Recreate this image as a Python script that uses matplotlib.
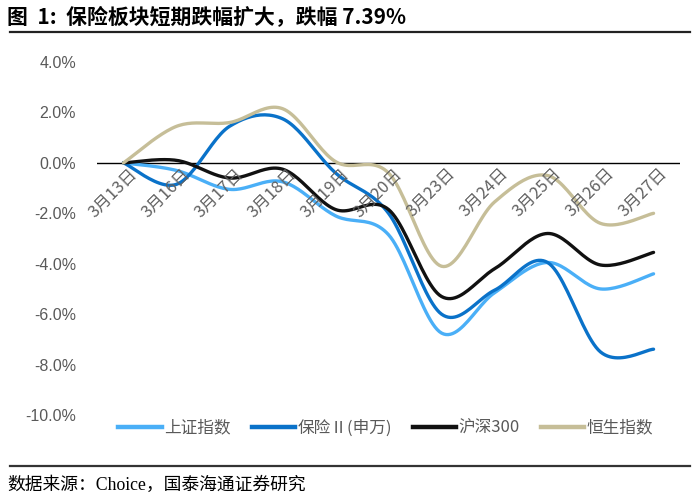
import numpy as np
import matplotlib
matplotlib.use('Agg')
from matplotlib import pyplot as plt
from matplotlib.lines import Line2D

plt.rcParams['font.family'] = ['Liberation Sans', 'Noto Sans CJK SC', 'DejaVu Sans']

dates = ['3月13日', '3月16日', '3月17日', '3月18日', '3月19日', '3月20日',
         '3月23日', '3月24日', '3月25日', '3月26日', '3月27日']

sse = [0.0, -0.3, -1.05, -0.75, -2.1, -2.85, -6.75, -5.15, -3.95, -5.0, -4.4]
insurance = [0.0, -0.85, 1.45, 1.75, -0.4, -2.0, -6.0, -5.05, -3.95, -7.5, -7.39]
csi300 = [0.0, 0.1, -0.6, -0.25, -1.85, -1.85, -5.3, -4.2, -2.8, -4.05, -3.55]
hsi = [0.0, 1.45, 1.6, 2.15, 0.05, -0.4, -4.1, -1.55, -0.5, -2.4, -2.0]

names = ['上证指数', '保险Ⅱ(申万)', '沪深300', '恒生指数']
colors = ['#4AAFF7', '#0A72C9', '#111111', '#C6BE98']


def smooth(y, n=24):
    # Catmull-Rom curve through the points, drawn like Excel's smoothed line
    y = np.asarray(y, float)
    x = np.arange(len(y), dtype=float)
    xs, ys = [], []
    for i in range(len(y) - 1):
        p0 = max(i - 1, 0)
        p3 = min(i + 2, len(y) - 1)
        t = np.linspace(0, 1, n, endpoint=False)
        for arr, out in ((x, xs), (y, ys)):
            a0, a1, a2, a3 = arr[p0], arr[i], arr[i + 1], arr[p3]
            c1 = a1 + (a2 - a0) / 6
            c2 = a2 - (a3 - a1) / 6
            out.extend((1 - t) ** 3 * a1 + 3 * (1 - t) ** 2 * t * c1
                       + 3 * (1 - t) * t ** 2 * c2 + t ** 3 * a2)
    xs.append(x[-1])
    ys.append(y[-1])
    return np.array(xs), np.array(ys)


fig = plt.figure(figsize=(6.95, 4.99), dpi=100)
ax = fig.add_axes([0.1396, 0.1683, 0.8389, 0.7074])

for series, c in zip([sse, insurance, csi300, hsi], colors):
    sx, sy = smooth(series)
    ax.plot(sx, sy, color=c, lw=2.4, solid_capstyle='round')

ax.axhline(0, color='black', lw=1.0, zorder=1)
ax.set_xlim(-0.5, len(dates) - 0.5)
ax.set_ylim(-10, 4)
ax.set_yticks(np.arange(-10, 5, 2))
ax.set_yticklabels(['%.1f%%' % v for v in np.arange(-10, 5, 2)])
ax.tick_params(axis='y', length=0, pad=15, labelsize=11.5, labelcolor='#595959')
ax.set_xticks([])
for s in ax.spines.values():
    s.set_visible(False)

for i, d in enumerate(dates):
    ax.text(i + 0.1, -0.1, d, rotation=45, ha='right', va='top',
            rotation_mode='anchor', fontsize=12, color='#606060',
            family=['Noto Sans CJK SC', 'DejaVu Sans'], fontweight='light')

handles = [Line2D([0], [0], color=c, lw=3.2) for c in colors]
leg = fig.legend(handles, names, loc='center', bbox_to_anchor=(0.555, 0.142),
                 ncol=4, frameon=False, handlelength=2.6, handletextpad=0.15,
                 columnspacing=1.25, prop={'family': ['Noto Sans CJK SC', 'DejaVu Sans'], 'size': 12})
for t in leg.get_texts():
    t.set_color('#595959')

fig.text(0.01, 0.966, '图  1:  保险板块短期跌幅扩大，跌幅 7.39%', fontsize=15, weight='bold',
         va='center', ha='left', family=['Noto Sans CJK SC', 'DejaVu Sans'])
fig.add_artist(Line2D([0.014, 0.993], [0.936, 0.936], color='#222222', lw=1.6))
fig.add_artist(Line2D([0.014, 0.993], [0.066, 0.066], color='#333333', lw=1.6))
fig.text(0.01, 0.028, '数据来源：Choice，国泰海通证券研究', fontsize=12.8, va='center', ha='left',
         family=['Liberation Serif', 'Noto Sans CJK SC'])

plt.savefig('out.png', dpi=100)
